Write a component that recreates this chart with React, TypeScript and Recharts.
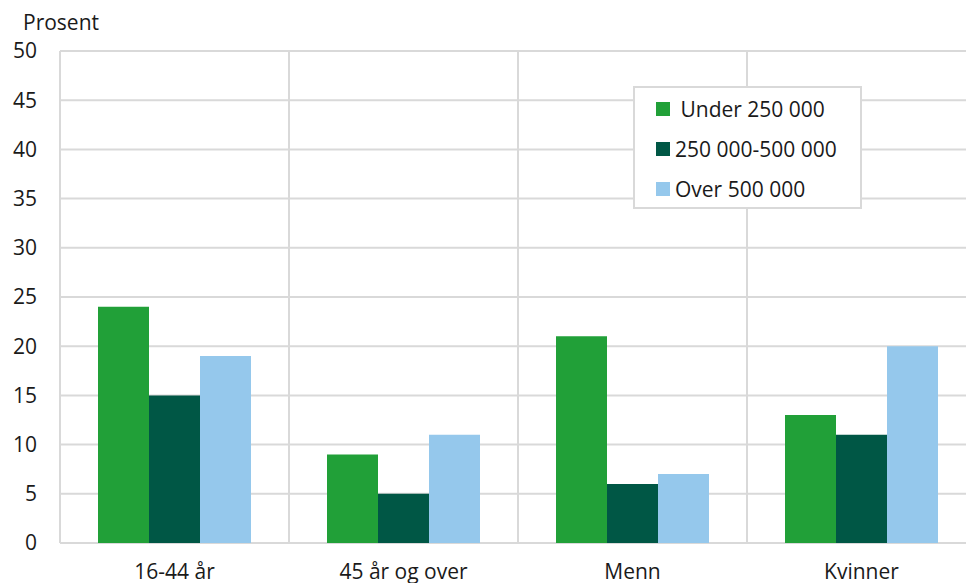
import React from "react";
import { BarChart, Bar, XAxis, YAxis, CartesianGrid } from "recharts";

const categories = ["16-44 år", "45 år og over", "Menn", "Kvinner"];
const under250 = [24, 9, 21, 13];
const mid250to500 = [15, 5, 6, 11];
const over500 = [19, 11, 7, 20];
const yTicks = [0, 5, 10, 15, 20, 25, 30, 35, 40, 45, 50];
const seriesNames = [" Under 250 000", "250 000-500 000", "Over 500 000"];
const colors = ["#21a038", "#005745", "#95c8ec"];

const data = categories.map((c, i) => ({
  name: c,
  a: under250[i],
  b: mid250to500[i],
  c: over500[i],
}));

const FONT = "'Open Sans', sans-serif";
const FS = 21;
const GRID = "#d9d9d9";

const LegendBox = () => (
  <div
    style={{
      position: "absolute",
      left: 633,
      top: 86,
      border: `2px solid ${GRID}`,
      background: "#fff",
      width: 229,
      height: 123,
      boxSizing: "border-box",
      padding: "1px 0 0 21px",
      fontFamily: FONT,
      fontSize: FS,
      color: "#1a1a1a",
    }}
  >
    {seriesNames.map((n, i) => (
      <div key={n} style={{ display: "flex", alignItems: "center", height: 40, whiteSpace: "pre" }}>
        <span style={{ width: 14, height: 14, background: colors[i], display: "inline-block", marginRight: 5 }} />
        <span>{n}</span>
      </div>
    ))}
  </div>
);

export default function App() {
  return (
    <div style={{ position: "absolute", left: 0, top: 0, width: 966, height: 583, overflow: "hidden", background: "#fff" }}>
      <div style={{ position: "absolute", left: 23, top: 8, fontFamily: FONT, fontSize: FS, color: "#1a1a1a", lineHeight: "28px" }}>Prosent</div>
      <BarChart
        width={980}
        height={583}
        data={data}
        margin={{ top: 51, right: 4, bottom: 10, left: 0 }}
        barCategoryGap={38}
        barGap={0}
      >
        <CartesianGrid
          stroke={GRID}
          strokeWidth={2}
          horizontalValues={yTicks}
          verticalCoordinatesGenerator={({ offset }: any) =>
            [0, 1, 2, 3, 4].map((i) => offset.left + (i * offset.width) / 4)
          }
        />
        <XAxis
          dataKey="name"
          height={30}
          axisLine={false}
          tickLine={false}
          tickSize={0}
          tickMargin={21}
          interval={0}
          tick={{ fontFamily: FONT, fontSize: FS, fill: "#1a1a1a" }}
        />
        <YAxis
          width={60}
          domain={[0, 50]}
          ticks={yTicks}
          axisLine={false}
          tickLine={false}
          tickSize={0}
          tickMargin={23}
          tick={{ fontFamily: FONT, fontSize: FS, fill: "#1a1a1a" }}
        />
        <Bar dataKey="a" name={seriesNames[0]} fill={colors[0]} isAnimationActive={false} />
        <Bar dataKey="b" name={seriesNames[1]} fill={colors[1]} isAnimationActive={false} />
        <Bar dataKey="c" name={seriesNames[2]} fill={colors[2]} isAnimationActive={false} />
      </BarChart>
      <LegendBox />
    </div>
  );
}
